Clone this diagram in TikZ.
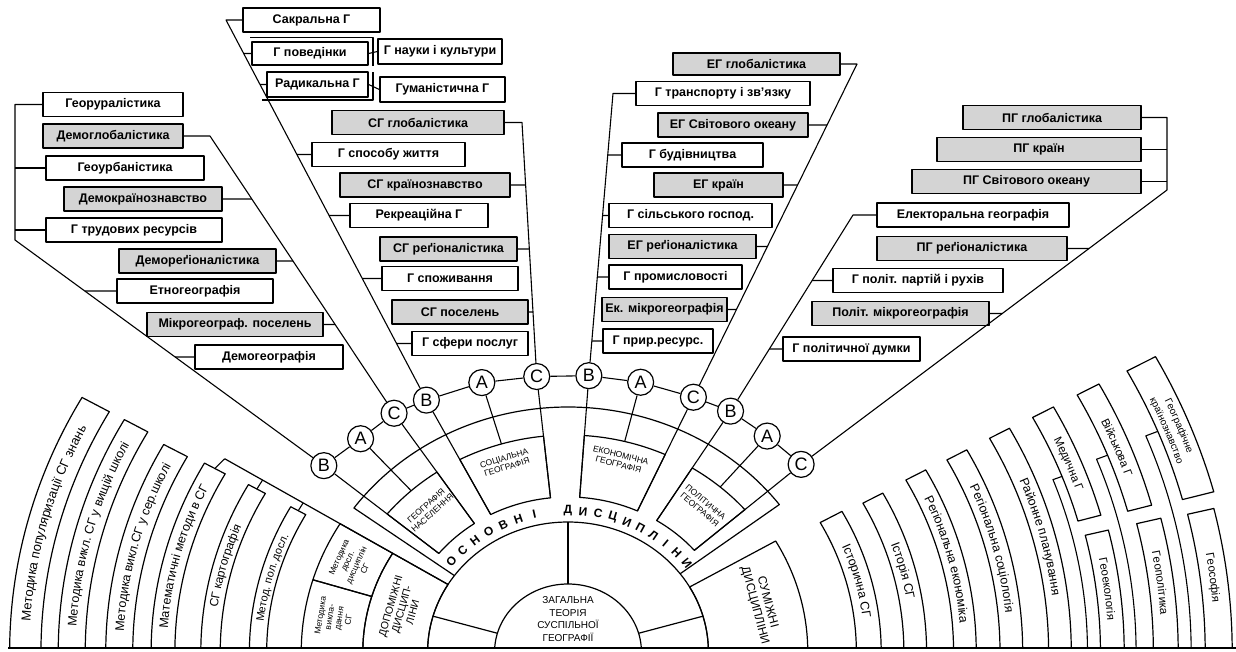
\documentclass[tikz,border=0pt]{standalone}
\usepackage{fontspec}
\setmainfont{Liberation Sans}
\usetikzlibrary{decorations.text}
\definecolor{boxgrey}{RGB}{212,212,212}
\newcommand{\sect}[4]{(#1:#3) arc[start angle=#1,end angle=#2,radius=#3] -- (#2:#4) arc[start angle=#2,end angle=#1,radius=#4] -- cycle}
\newcommand{\arct}[5]{\path[decorate,decoration={text along path, text align=center, raise=-4pt, text={|#5|#4}}] (#1:#3) arc[start angle=#1,end angle=#2,radius=#3];}
\tikzset{
  wbox/.style={draw, line width=1.3pt, fill=white, minimum height=24pt, inner sep=0pt, font=\bfseries\fontsize{12.5}{13}\selectfont},
  gbox/.style={wbox, fill=boxgrey},
  circ/.style={circle, draw, line width=1.2pt, fill=white, minimum size=26pt, inner sep=0pt, font=\fontsize{18}{18}\selectfont},
  ln/.style={line width=1.1pt},
  fan/.style={draw, line width=1.2pt},
  captext/.style={font=\fontsize{8.5}{9.5}\selectfont, align=center},
  osn/.style={font=\bfseries\fontsize{12}{12}\selectfont}
}
\begin{document}
\begin{tikzpicture}[x=1pt,y=-1pt,line join=round]
\useasboundingbox (0,0) rectangle (1236,651);
\fill[white] (0,0) rectangle (1236,651);

% ---------------- polar part ----------------
\begin{scope}
\clip (0,0) rectangle (1236,648);
\begin{scope}[shift={(568,652)}, x={(1.08pt,0pt)}, y={(0pt,1pt)}]
  % centre and middle ring
  \draw[fan] (0:68) arc[start angle=0,end angle=180,radius=68];
  \draw[fan] (0:130) arc[start angle=0,end angle=180,radius=130];
  \draw[fan] (90:68) -- (90:130);
  \draw[fan] (164:68) -- (164:130);
  \draw[fan] (16:68) -- (16:130);
  \node[font=\fontsize{10}{12.5}\selectfont, align=center] (zag) at (90:33) {ЗАГАЛЬНА\\ТЕОРІЯ\\СУСПІЛЬНОЇ\\ГЕОГРАФІЇ};
  % main band
  \draw[fan] (37:130) -- (37:245) arc[start angle=37,end angle=144,radius=245] -- (144:130);
  \foreach \a/\l in {140/О,133.8/С,127.6/Н,121.4/О,115.2/В,109/Н,102.8/І,90/Д,84.3/И,78.6/С,72.9/Ц,67.2/И,61.6/П,55.9/Л,50.2/І,44.5/Н,38.8/И}
    \node[osn, rotate=\a-90] at (\a:141) {\l};
  % four sector boxes
  \draw[fan] \sect{124}{140.5}{155}{217};
  \draw[fan] \sect{96}{117.5}{155}{217};
  \draw[fan] \sect{65.5}{86}{155}{217};
  \draw[fan] \sect{41}{58}{155}{217};
  \node[captext, rotate=42] (cap1) at (132:192) {ГЕОГРАФІЯ\\НАСЕЛЕННЯ};
  \node[captext, rotate=17] (cap2) at (107:198) {СОЦІАЛЬНА\\ГЕОГРАФІЯ};
  \node[captext, rotate=-14] (cap3) at (76:198) {ЕКОНОМІЧНА\\ГЕОГРАФІЯ};
  \node[captext, rotate=-40] (cap4) at (49.5:192) {ПОЛІТИЧНА\\ГЕОГРАФІЯ};
  % circles
  \node[circ] (B1) at (140.5:293) {B};
  \node[circ] (A1) at (132:287) {A};
  \node[circ] (C1) at (124:288) {C};
  \node[circ] (B2) at (117.5:284) {B};
  \node[circ] (A2) at (106.5:281) {A};
  \node[circ] (C2) at (96:277) {C};
  \node[circ] (B3) at (86:277) {B};
  \node[circ] (A3) at (76:278) {A};
  \node[circ] (C3) at (65.5:280) {C};
  \node[circ] (B4) at (58:284) {B};
  \node[circ] (A4) at (49.5:284) {A};
  \node[circ] (C4) at (41:286) {C};
  \draw[ln] (B1) -- (A1) -- (C1) -- (B2) -- (A2) -- (C2) -- (B3) -- (A3) -- (C3) -- (B4) -- (A4) -- (C4);
  \draw[ln] (B1) -- (140.5:155);  \draw[ln] (A1) -- (132:217);  \draw[ln] (C1) -- (124:155);
  \draw[ln] (B2) -- (117.5:155);  \draw[ln] (A2) -- (106.5:217); \draw[ln] (C2) -- (96:155);
  \draw[ln] (B3) -- (86:155);     \draw[ln] (A3) -- (76:217);    \draw[ln] (C3) -- (65.5:155);
  \draw[ln] (B4) -- (58:155);     \draw[ln] (A4) -- (49.5:217);  \draw[ln] (C4) -- (41:155);

  % left cluster (auxiliary disciplines)
  \draw[fan] \sect{148.7}{180}{130}{190};
  \draw[fan] \sect{148.7}{163}{190}{247};
  \draw[fan] \sect{163}{180}{190}{247};
  \draw[fan] (148.7:130) -- (148.7:372);
  \node[font=\fontsize{10.5}{11.5}\selectfont, align=center, rotate=74] (dop) at (164.5:160) {ДОПОМІЖНІ\\ДИСЦИП-\\ЛІНИ};
  \node[font=\fontsize{8.5}{9.5}\selectfont, align=center, rotate=66] (mdos) at (156:219) {Методика\\досл.\\дисциплін\\СГ};
  \node[font=\fontsize{8.5}{9.5}\selectfont, align=center, rotate=81] (mvyk) at (171:219) {Методика\\викла-\\дання\\СГ};
  % left fan
  \draw[fan] \sect{150.5}{180}{488}{517};
  \draw[fan] \sect{150.5}{180}{447}{472};
  \draw[fan] \sect{151}{180}{403}{428};
  \draw[fan] \sect{150.7}{180}{364}{386};
  \draw[fan] \sect{150.5}{180}{322}{340};
  \draw[fan] \sect{150.5}{180}{279}{295};
  \draw[ln] (148.7:372) -- (150.7:375);
  \draw[ln] (148.7:331) -- (150.5:331);
  \draw[ln] (148.7:287) -- (150.5:287);
  \arct{179.3}{150.5}{502.5}{Методика популяризації СГ знань}{\fontsize{13}{13}\selectfont}
  \arct{179.3}{150.5}{459.5}{Методика викл. СГ у вищій школі}{\fontsize{12.5}{13}\selectfont}
  \arct{179.3}{151}{415.5}{Методика викл.СГ у сер.школі}{\fontsize{12.5}{13}\selectfont}
  \arct{179.3}{150.7}{375}{Математичні методи в СГ}{\fontsize{12.5}{13}\selectfont}
  \arct{179.3}{150.5}{331}{СГ картографія}{\fontsize{12}{12}\selectfont}
  \arct{179.3}{150.5}{287}{Метод. пол. досл.}{\fontsize{11}{11}\selectfont}

  % right cluster
  \draw[fan] \sect{0}{30}{130}{222};
  \node[font=\fontsize{12}{13}\selectfont, align=center, rotate=-75] (sum) at (15:185) {СУМІЖНІ\\ДИСЦИПЛІНИ};
  \draw[fan] \sect{0}{29}{267}{290};
  \draw[fan] \sect{0}{28.6}{311}{332};
  \draw[fan] \sect{0}{28.8}{357}{378};
  \draw[fan] \sect{0}{28.7}{400}{421};
  \draw[fan] \sect{0}{28.7}{445}{466};
  \draw[fan] \sect{15.5}{28.6}{490}{512};
  \draw[fan] \sect{0}{13.7}{493}{515};
  \draw[fan] \sect{15.2}{28.6}{537}{560};
  \draw[fan] \sect{0}{13.7}{542}{565};
  \draw[fan] \sect{15}{28.5}{589}{619};
  \draw[fan] \sect{0}{13.5}{590}{615};
  \draw[ln] (21:490) -- (21:481) arc[start angle=21,end angle=0,radius=481];
  \draw[ln] (21.5:537) -- (21.5:526) arc[start angle=21.5,end angle=0,radius=526];
  \draw[ln] (22:589) -- (22:577) arc[start angle=22,end angle=0,radius=577];
  \arct{29}{0.7}{278.5}{Історична СГ}{\fontsize{12.5}{13}\selectfont}
  \arct{28.6}{0.7}{321.5}{Історія СГ}{\fontsize{12.5}{13}\selectfont}
  \arct{28.8}{0.7}{367.5}{Регіональна економіка}{\fontsize{12.5}{13}\selectfont}
  \arct{28.7}{0.7}{410.5}{Регіональна соціологія}{\fontsize{12.5}{13}\selectfont}
  \arct{28.7}{0.7}{455.5}{Районне планування}{\fontsize{12.5}{13}\selectfont}
  \arct{28.6}{15.5}{501}{Медична Г}{\fontsize{11.5}{12}\selectfont}
  \arct{28.6}{15.2}{548.5}{Військова Г}{\fontsize{11.5}{12}\selectfont}
  \path[decorate,decoration={text along path, text align=center, raise=-3.5pt, text={|\fontsize{10}{10}\selectfont|Географічне}}] (28.5:610) arc[start angle=28.5,end angle=15,radius=610];
  \path[decorate,decoration={text along path, text align=center, raise=-3.5pt, text={|\fontsize{10}{10}\selectfont|країнознавство}}] (28.5:598) arc[start angle=28.5,end angle=15,radius=598];
  \arct{13.7}{0.7}{504}{Геоекологія}{\fontsize{11.5}{12}\selectfont}
  \arct{13.7}{0.7}{553.5}{Геополітика}{\fontsize{11.5}{12}\selectfont}
  \arct{13.5}{0.7}{602.5}{Геософія}{\fontsize{11.5}{12}\selectfont}
\end{scope}
\end{scope}
\draw[line width=1.6pt] (8,648) -- (1236,648);

% ---------------- demography lists ----------------
\node[wbox, minimum width=140] (georur) at (113,104.5) {Георуралістика};
\node[wbox, minimum width=158] (geourb) at (125,168) {Геоурбаністика};
\node[wbox, minimum width=176] (gtrud) at (134,230) {Г трудових ресурсів};
\node[wbox, minimum width=156] (etno) at (195,291) {Етногеографія};
\node[wbox, minimum width=148] (demogeo) at (269,357) {Демогеографія};
\node[gbox, minimum width=140] (demglob) at (113,136) {Демоглобалістика};
\node[gbox, minimum width=158] (demkr) at (143,199) {Демокраїнознавство};
\node[gbox, minimum width=157] (demreg) at (197.5,261) {Демореґіоналістика};
\node[gbox, minimum width=176] (mikpos) at (235,324.5) {Мікрогеограф. поселень};
\coordinate (dw1) at (15,104.5);
\coordinate (dw2) at (15,240);
\draw[ln] (georur.west) -- (dw1) -- (dw2) -- (B1);
\draw[ln] (geourb.west) -- (geourb.west -| dw1);
\draw[ln] (gtrud.west) -- (gtrud.west -| dw1);
\draw[ln] (etno.west) -- (intersection of dw2--B1 and etno.west--etno.east);
\draw[ln] (demogeo.west) -- (intersection of dw2--B1 and demogeo.west--demogeo.east);
\coordinate (dg1) at (210,136);
\draw[ln] (demglob.east) -- (dg1) -- (C1);
\draw[ln] (demkr.east) -- (intersection of dg1--C1 and demkr.west--demkr.east);
\draw[ln] (demreg.east) -- (intersection of dg1--C1 and demreg.west--demreg.east);
\draw[ln] (mikpos.east) -- (intersection of dg1--C1 and mikpos.west--mikpos.east);

% ---------------- social lists ----------------
\node[wbox, minimum width=137] (sakr) at (311.5,20) {Сакральна Г};
\draw[ln] (250,37.5) -- (373,37.5) -- (373,66);
\draw[ln] (262,100) -- (373,100) -- (373,72);
\node[wbox, minimum width=116, minimum height=23] (gpov) at (310,53.5) {Г поведінки};
\node[wbox, minimum width=101, minimum height=25] (radyk) at (317.5,84.5) {Радикальна Г};
\node[wbox, minimum width=124, minimum height=25] (gnauk) at (440,51.5) {Г науки і культури};
\node[wbox, minimum width=125, minimum height=25] (guman) at (442.5,89.5) {Гуманістична Г};
\node[wbox, minimum width=153] (gsposob) at (388.5,154.5) {Г способу життя};
\node[wbox, minimum width=138] (rekr) at (419,215.5) {Рекреаційна Г};
\node[wbox, minimum width=136] (gspoz) at (450,278.5) {Г споживання};
\node[wbox, minimum width=116] (gsfer) at (470,343.5) {Г сфери послуг};
\node[gbox, minimum width=172] (sgglob) at (418,122.5) {СГ глобалістика};
\node[gbox, minimum width=170] (sgkr) at (425,185) {СГ країнознавство};
\node[gbox, minimum width=137] (sgreg) at (448.5,249) {СГ реґіоналістика};
\node[gbox, minimum width=136] (sgpos) at (460,312) {СГ поселень};
\coordinate (sw1) at (226,20);
\draw[ln] (sakr.west) -- (sw1) -- (B2);
\foreach \n in {gpov,radyk,gsposob,rekr,gspoz,gsfer}
  \draw[ln] (\n.west) -- (intersection of sw1--B2 and \n.west--\n.east);
\draw[ln] (gpov.east) -- (gnauk.west);
\draw[ln] (radyk.east) -- (guman.west);
\coordinate (sg1) at (522,122.5);
\draw[ln] (sgglob.east) -- (sg1) -- (C2);
\foreach \n in {sgkr,sgreg,sgpos}
  \draw[ln] (\n.east) -- (intersection of sg1--C2 and \n.west--\n.east);

% ---------------- economic lists ----------------
\node[wbox, minimum width=174] (gtrans) at (723,93.5) {Г транспорту і зв’язку};
\node[wbox, minimum width=141] (gbud) at (692.5,155) {Г будівництва};
\node[wbox, minimum width=163] (gsil) at (690.5,215.5) {Г сільського господ.};
\node[wbox, minimum width=133] (gprom) at (675.5,277) {Г промисловості};
\node[wbox, minimum width=110] (gpryr) at (658,341) {Г прир.ресурс.};
\node[gbox, minimum width=167, minimum height=22] (egglob) at (756.5,64) {ЕГ глобалістика};
\node[gbox, minimum width=150] (egsv) at (733,125) {ЕГ Світового океану};
\node[gbox, minimum width=129] (egkr) at (718.5,185) {ЕГ країн};
\node[gbox, minimum width=147] (egreg) at (682.5,246.5) {ЕГ реґіоналістика};
\node[gbox, minimum width=125] (ekmik) at (664.5,309.5) {Ек. мікрогеографія};
\coordinate (ew1) at (613,93.5);
\draw[ln] (gtrans.west) -- (ew1) -- (B3);
\foreach \n in {gbud,gsil,gprom,gpryr}
  \draw[ln] (\n.west) -- (intersection of ew1--B3 and \n.west--\n.east);
\coordinate (eg1) at (857,64);
\draw[ln] (egglob.east) -- (eg1) -- (C3);
\foreach \n in {egsv,egkr,egreg,ekmik}
  \draw[ln] (\n.east) -- (intersection of eg1--C3 and \n.west--\n.east);

% ---------------- political lists ----------------
\node[gbox, minimum width=178] (pgglob) at (1052,117.5) {ПГ глобалістика};
\node[gbox, minimum width=204] (pgkr) at (1039,149.5) {ПГ країн};
\node[gbox, minimum width=229] (pgsv) at (1026.5,181.5) {ПГ Світового океану};
\node[gbox, minimum width=190] (pgreg) at (972,248.5) {ПГ реґіоналістика};
\node[gbox, minimum width=177] (polmik) at (900.5,313.5) {Політ. мікрогеографія};
\node[wbox, minimum width=192] (elekt) at (973,215) {Електоральна географія};
\node[wbox, minimum width=170] (gpart) at (918,280.5) {Г політ. партій і рухів};
\node[wbox, minimum width=137] (gdum) at (851.5,349) {Г політичної думки};
\coordinate (pg1) at (1167,117.5);
\coordinate (pg2) at (1167,190);
\draw[ln] (pgglob.east) -- (pg1) -- (pg2) -- (C4);
\draw[ln] (pgkr.east) -- (pgkr.east -| pg1);
\draw[ln] (pgsv.east) -- (pgsv.east -| pg1);
\foreach \n in {pgreg,polmik}
  \draw[ln] (\n.east) -- (intersection of pg2--C4 and \n.west--\n.east);
\coordinate (pw1) at (853,215);
\draw[ln] (elekt.west) -- (pw1) -- (B4);
\foreach \n in {gpart,gdum}
  \draw[ln] (\n.west) -- (intersection of pw1--B4 and \n.west--\n.east);
\end{tikzpicture}
\end{document}
